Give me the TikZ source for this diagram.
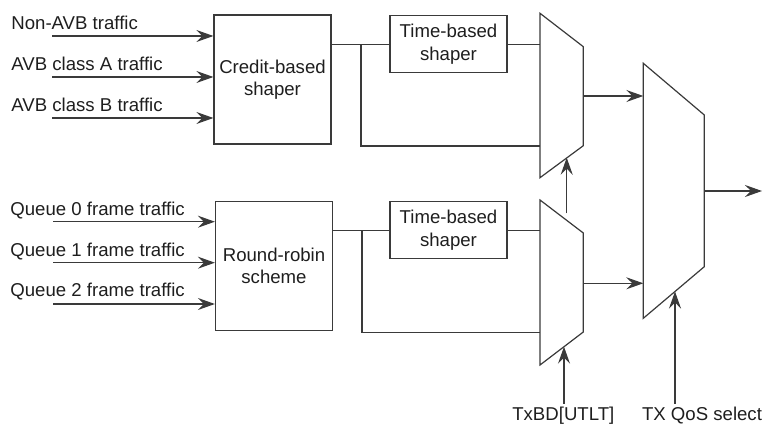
\documentclass[tikz,border=0pt]{standalone}
\usepackage{fontspec}
\setmainfont{Liberation Sans}
\usepackage{tikz}
\usetikzlibrary{arrows.meta,positioning,calc}
\definecolor{avline}{HTML}{3A3A3A}
\definecolor{avtext}{HTML}{1E1E1E}
\tikzset{
  blk/.style={draw=avline,line width=.6pt,minimum width=58.5pt,minimum height=64.5pt,
    align=center,inner sep=1pt,text=avtext},
  tbox/.style={blk,minimum height=28.5pt},
  wire/.style={draw=avline,line width=.6pt},
  sig/.style={wire,-{Stealth[length=8.5pt,width=6pt,inset=3pt]}},
  lbl/.style={inner sep=0pt,text=avtext},
  mux/.style={wire,line join=miter}
}

\begin{document}
\begin{tikzpicture}[x=.5pt,y=-.5pt,font=\fontsize{9.3}{11.3}\selectfont]
    \useasboundingbox (0,0) rectangle (765,426);
    % shapers
    \node[blk] (cbs) at (272.5,79.5) {Credit-based\\shaper};
    \node[blk] (rr) at (274,266) {Round-robin\\scheme};
    \node[tbox] (tbsA) at (448.5,44.3) {Time-based\\shaper};
    \node[tbox] (tbsB) at (448.5,230.3) {Time-based\\shaper};
    % traffic inputs
    \node[lbl,anchor=base west] (nonavb) at (11,30) {Non-AVB traffic};
    \node[lbl,anchor=base west] (clsA) at (11,71) {AVB class A traffic};
    \node[lbl,anchor=base west] (clsB) at (11,111.7) {AVB class B traffic};
    \node[lbl,anchor=base west] (q0) at (10,216) {Queue 0 frame traffic};
    \node[lbl,anchor=base west] (q1) at (10,256.7) {Queue 1 frame traffic};
    \node[lbl,anchor=base west] (q2) at (10,296.7) {Queue 2 frame traffic};
    \coordinate (nonavb-s) at (52,36);
    \coordinate (clsA-s) at (52,77);
    \coordinate (clsB-s) at (52,118);
    \coordinate (q0-s) at (53,221.7);
    \coordinate (q1-s) at (53,262.7);
    \coordinate (q2-s) at (53,304);
    \draw[sig] (nonavb-s) -- (nonavb-s -| cbs.west);
    \draw[sig] (clsA-s) -- (clsA-s -| cbs.west);
    \draw[sig] (clsB-s) -- (clsB-s -| cbs.west);
    \draw[sig] (q0-s) -- (q0-s -| rr.west);
    \draw[sig] (q1-s) -- (q1-s -| rr.west);
    \draw[sig] (q2-s) -- (q2-s -| rr.west);
    % muxes
    \draw[mux] (540,13.3) -- (583.3,46.7) -- (583.3,145.7) -- (540,177.7) -- cycle;
    \draw[mux] (540,200) -- (583.3,233) -- (583.3,332) -- (540,365) -- cycle;
    \draw[mux] (643.3,63.3) -- (704.3,115) -- (704.3,266.7) -- (643.3,318.3) -- cycle;
    \coordinate (muxA-i) at (540,146);
    \coordinate (muxA-o) at (583.3,96);
    \coordinate (muxA-s) at (566.7,157.7);
    \coordinate (muxB-i) at (540,332.7);
    \coordinate (muxB-o) at (583.3,283.3);
    \coordinate (muxB-s) at (564,346.7);
    \coordinate (muxQ-w) at (643.3,190);
    \coordinate (muxQ-o) at (704.3,191);
    \coordinate (muxQ-s) at (675,291.5);
    % shaper paths and bypass
    \coordinate (jA) at (361,44.3);
    \coordinate (jB) at (362,230.3);
    \draw[wire] (cbs.east |- tbsA.west) -- (tbsA.west);
    \draw[wire] (jA) |- (muxA-i);
    \draw[wire] (tbsA.east) -- (tbsA.east -| muxA-i);
    \draw[wire] (rr.east |- tbsB.west) -- (tbsB.west);
    \draw[wire] (jB) |- (muxB-i);
    \draw[wire] (tbsB.east) -- (tbsB.east -| muxB-i);
    % outputs
    \draw[sig] (muxA-o) -- (muxA-o -| muxQ-w);
    \draw[sig] (muxB-o) -- (muxB-o -| muxQ-w);
    \coordinate (out) at (762,191);
    \draw[sig] (muxQ-o) -- (out);
    % selects
    \coordinate (selA) at (566.7,213.3);
    \draw[sig] (selA) -- (muxA-s);
    \node[lbl,anchor=base] (txbd) at (563.3,420.5) {TxBD[UTLT]};
    \node[lbl,anchor=base] (qos) at (702,420.5) {TX QoS select};
    \draw[sig] (muxB-s |- 0,404) -- (muxB-s);
    \draw[sig] (muxQ-s |- 0,404) -- (muxQ-s);
  \end{tikzpicture}
\end{document}
